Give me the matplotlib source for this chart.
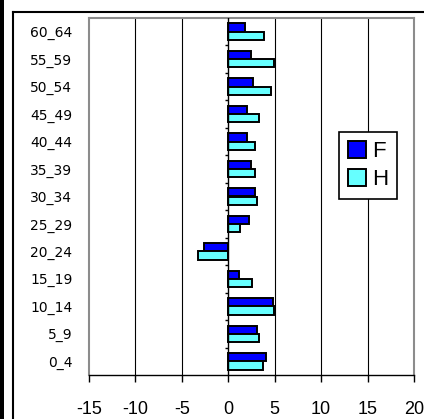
import matplotlib.pyplot as plt
from matplotlib.lines import Line2D
from matplotlib.patches import Rectangle
import numpy as np

groups = ["0_4", "5_9", "10_14", "15_19", "20_24", "25_29", "30_34",
          "35_39", "40_44", "45_49", "50_54", "55_59", "60_64"]
femmes = [4.1, 3.1, 4.8, 1.15, -2.6, 2.25, 2.9, 2.4, 2.0, 2.0, 2.7, 2.4, 1.8]
hommes = [3.7, 3.3, 4.9, 2.6, -3.3, 1.3, 3.1, 2.9, 2.9, 3.3, 4.6, 4.9, 3.8]
xticks = [-15, -10, -5, 0, 5, 10, 15, 20]

W, H = 424, 419
fig = plt.figure(figsize=(W / 100, H / 100), dpi=100)
ax = fig.add_axes([89 / W, 1 - 375 / H, (414 - 89) / W, (375 - 18) / H])

y = np.arange(len(groups))
bh = 0.3
ax.barh(y + bh / 2, femmes, height=bh, color="#0000FF", edgecolor="black",
        linewidth=1.4, label="F", zorder=3)
ax.barh(y - bh / 2, hommes, height=bh, color="#66FFFF", edgecolor="black",
        linewidth=1.4, label="H", zorder=3)

ax.set_xlim(-15, 20)
ax.set_ylim(-0.5, len(groups) - 0.5)

# vertical grid lines
for v in xticks[1:-1]:
    if v != 0:
        ax.axvline(v, color="black", linewidth=0.8, zorder=1)
# category axis at zero with small ticks between groups
ax.axvline(0, color="black", linewidth=1.0, zorder=4)
ax.hlines(y[1:] - 0.5, -0.4, 0, color="black", linewidth=1.0, zorder=4)

ax.set_xticks(xticks)
ax.set_xticklabels([str(v) for v in xticks], fontsize=13, family="Liberation Sans")
ax.tick_params(axis="x", length=5, width=1.0, pad=14, direction="out")
ax.set_yticks(y)
ax.set_yticklabels(groups, fontsize=10, family="DejaVu Sans")
ax.tick_params(axis="y", length=0, pad=12)

for side in ["left", "top", "right"]:
    ax.spines[side].set_color("#8c8c8c")
    ax.spines[side].set_linewidth(1.5)
ax.spines["bottom"].set_color("black")
ax.spines["bottom"].set_linewidth(1.0)

leg = ax.legend(loc="upper left", bbox_to_anchor=((339 - 89) / 325, 1 - (132 - 18) / 357),
                frameon=True, fancybox=False, edgecolor="black", framealpha=1,
                fontsize=16, handlelength=0.8, handleheight=0.8, handletextpad=0.3,
                borderpad=0.4, labelspacing=0.3, borderaxespad=0)
leg.get_frame().set_linewidth(1.2)
for t in leg.get_texts():
    t.set_family("Liberation Sans")

# outer chart frame
fig.add_artist(Rectangle((0, 0), 4 / W, 1, transform=fig.transFigure,
                         color="black", linewidth=0))
fig.add_artist(Line2D([13 / W, 13 / W], [0, 1 - 12 / H], color="black", linewidth=1.5))
fig.add_artist(Line2D([13 / W, 423 / W], [1 - 12 / H, 1 - 12 / H], color="black", linewidth=1.5))

fig.savefig("out.png", dpi=100)
